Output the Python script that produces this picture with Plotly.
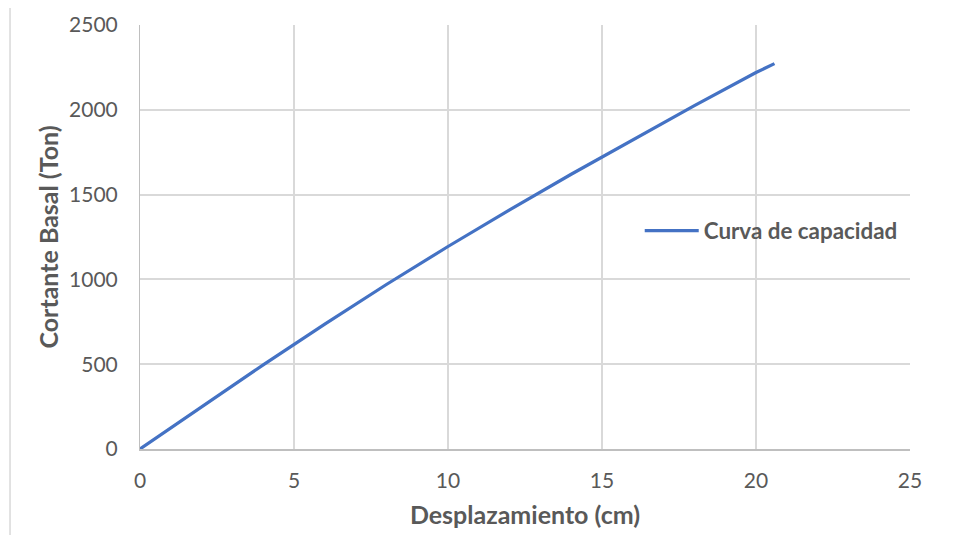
import plotly.graph_objects as go

# Data
desplazamiento_cm = [0, 2, 4, 6, 8, 10, 12, 14, 16, 18, 20, 20.6]
cortante_ton = [0, 250, 496, 736, 970, 1194, 1410, 1620, 1825, 2025, 2220, 2272]
series_name = "Curva de capacidad"
x_title = "Desplazamiento (cm)"
y_title = "Cortante Basal (Ton)"
x_ticks = [0, 5, 10, 15, 20, 25]
y_ticks = [0, 500, 1000, 1500, 2000, 2500]

FONT = "Lato, 'Open Sans', sans-serif"
GRAY = "#595959"

fig = go.Figure()
fig.add_trace(go.Scatter(
    x=desplazamiento_cm, y=cortante_ton, mode="lines", name=series_name,
    line=dict(color="#4472c4", width=3.2),
))

# outer chart frame (partially cropped as in the reference)
fig.add_shape(type="rect", xref="paper", yref="paper",
              x0=-0.1688, x1=1.07, y0=-0.25, y1=1.0448,
              line=dict(color="#d9d9d9", width=1.5), layer="below")

fig.update_layout(
    width=953, height=535,
    margin=dict(l=132, r=51, t=17, b=94),
    paper_bgcolor="white", plot_bgcolor="white",
    font=dict(family=FONT, color=GRAY, size=21),
    showlegend=True,
    legend=dict(x=0.649, y=0.514, xanchor="left", yanchor="middle",
                bgcolor="rgba(0,0,0,0)",
                font=dict(family=FONT, size=22.4, color=GRAY, weight="bold"),
                itemwidth=54),
    xaxis=dict(range=[0, 25], tickvals=x_ticks, automargin=False,
               showgrid=True, gridcolor="#d9d9d9", gridwidth=1.5,
               showline=True, linecolor="#bfbfbf", linewidth=1.5,
               zeroline=False, ticks="", ticklabelstandoff=12,
               tickfont=dict(size=21),
               title=dict(text=x_title, standoff=16,
                          font=dict(family=FONT, size=25, color=GRAY, weight="bold"))),
    yaxis=dict(range=[0, 2500], tickvals=y_ticks, automargin=False,
               showgrid=True, gridcolor="#d9d9d9", gridwidth=1.5,
               showline=True, linecolor="#bfbfbf", linewidth=1,
               zeroline=False, ticks="", ticklabelstandoff=17,
               tickfont=dict(size=21),
               title=dict(text=y_title, standoff=3,
                          font=dict(family=FONT, size=25, color=GRAY, weight="bold"))),
)

fig.write_html("out.html")
